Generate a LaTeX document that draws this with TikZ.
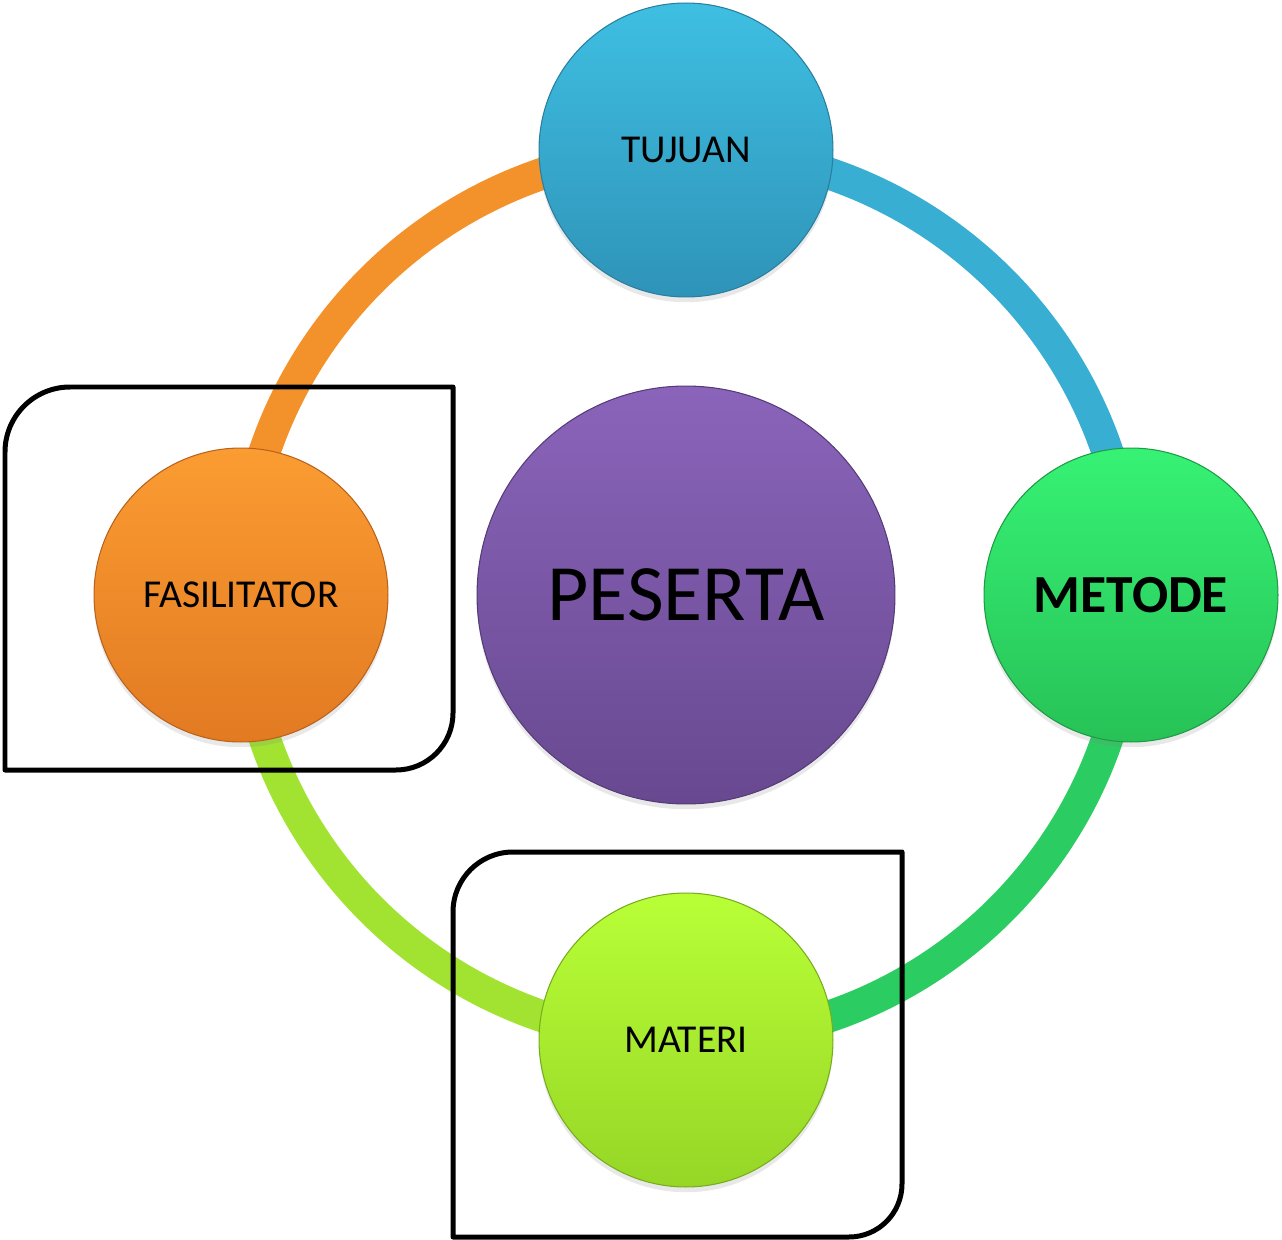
\documentclass[tikz,border=0pt]{standalone}
\usepackage{fontspec}
\setmainfont{Carlito}
\usetikzlibrary{shadows}
\definecolor{tujTop}{HTML}{3EBFE2}
\definecolor{tujBot}{HTML}{2F93B8}
\definecolor{tujLine}{HTML}{2A7E9E}
\definecolor{fasTop}{HTML}{FB9C32}
\definecolor{fasBot}{HTML}{E27A22}
\definecolor{fasLine}{HTML}{B8621B}
\definecolor{metTop}{HTML}{36F274}
\definecolor{metBot}{HTML}{27C257}
\definecolor{metLine}{HTML}{1F9A45}
\definecolor{matTop}{HTML}{B9FF37}
\definecolor{matBot}{HTML}{96D626}
\definecolor{matLine}{HTML}{78AC1E}
\definecolor{pesTop}{HTML}{8A64BA}
\definecolor{pesBot}{HTML}{684990}
\definecolor{pesLine}{HTML}{553B77}
\definecolor{ringOrange}{HTML}{F3922A}
\definecolor{ringBlue}{HTML}{38AED3}
\definecolor{ringGreen}{HTML}{2BCD62}
\definecolor{ringLime}{HTML}{A2E332}
\tikzset{
  ring/.style={line width=0.64cm},
  bubble/.style={circle, inner sep=0pt, minimum size=5.88cm, shade, shading angle=0,
    line width=0.6pt, text=black, font=\fontsize{22.5}{27}\selectfont,
    drop shadow={opacity=0.18, shadow xshift=0pt, shadow yshift=-3pt}},
  framebox/.style={draw=black, line width=0.1cm, line join=round}
}
\begin{document}
\begin{tikzpicture}[x=0.02cm,y=-0.02cm]
\useasboundingbox (0,0) rectangle (1282,1240);
\coordinate (ctr) at (686,595);
\coordinate (pT) at (686,150);
\coordinate (pL) at (241,595);
\coordinate (pR) at (1131,595);
\coordinate (pB) at (686,1040);
% ring segments
\draw[ring, ringOrange] (pT) arc[start angle=270, end angle=180, radius=445];
\draw[ring, ringBlue] (pT) arc[start angle=270, end angle=360, radius=445];
\draw[ring, ringGreen] (pR) arc[start angle=0, end angle=90, radius=445];
\draw[ring, ringLime] (pB) arc[start angle=90, end angle=180, radius=445];
% bubbles
\node[bubble, top color=tujTop, bottom color=tujBot, draw=tujLine] (tuj) at (pT) {TUJUAN};
\node[bubble, top color=fasTop, bottom color=fasBot, draw=fasLine] (fas) at (pL) {FASILITATOR};
\node[bubble, top color=metTop, bottom color=metBot, draw=metLine, font=\fontsize{30.5}{35}\selectfont\bfseries] (met) at (pR) {METODE};
\node[bubble, top color=matTop, bottom color=matBot, draw=matLine] (mat) at (pB) {MATERI};
\node[bubble, minimum size=8.36cm, top color=pesTop, bottom color=pesBot, draw=pesLine, font=\fontsize{45.5}{52}\selectfont] (pes) at (ctr) {PESERTA};
% frames
\draw[framebox] (5,770) -- (5,452) arc[start angle=180, end angle=270, radius=65] -- (453,387) -- (453,713) arc[start angle=0, end angle=90, radius=57] -- cycle;
\draw[framebox] (453,1237) -- (453,912) arc[start angle=180, end angle=270, radius=60] -- (902,852) -- (902,1184) arc[start angle=0, end angle=90, radius=53] -- cycle;
\end{tikzpicture}
\end{document}
